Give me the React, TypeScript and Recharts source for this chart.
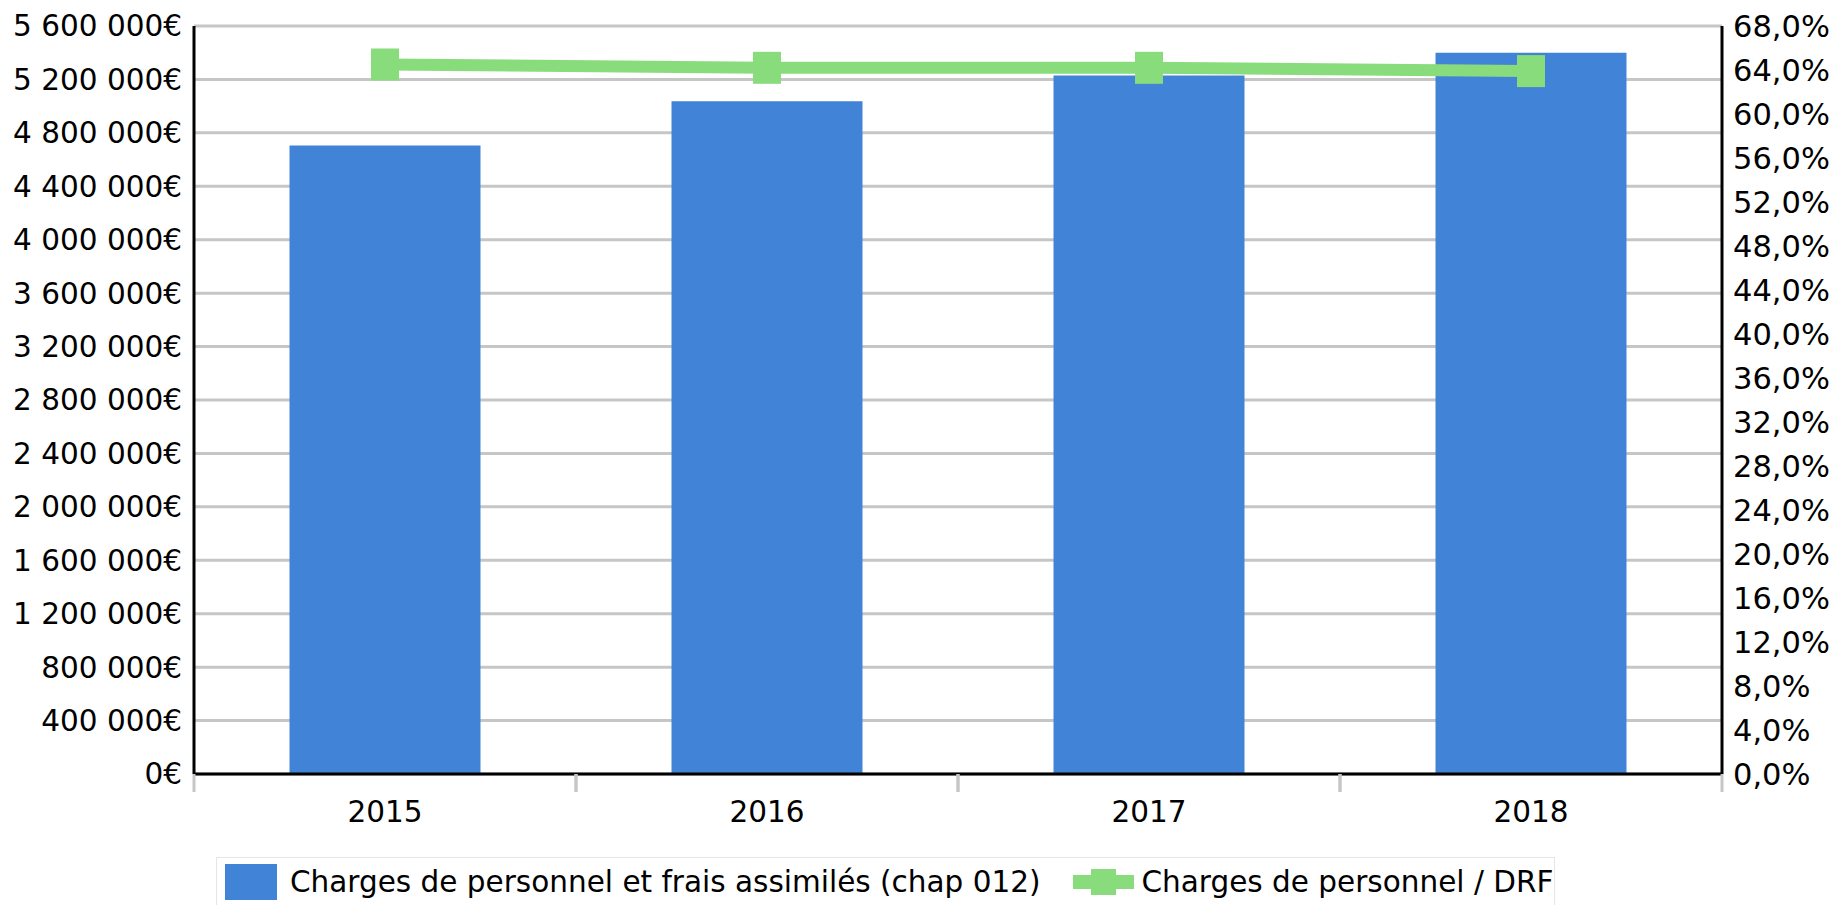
import {
  ComposedChart,
  Bar,
  Line,
  XAxis,
  YAxis,
  CartesianGrid,
  Legend,
} from "recharts";

const years = ["2015", "2016", "2017", "2018"];
const charges = [4706000, 5036000, 5230000, 5400000];
const ratio = [64.5, 64.2, 64.2, 63.9];

const euroTicks = [
  0, 400000, 800000, 1200000, 1600000, 2000000, 2400000, 2800000, 3200000,
  3600000, 4000000, 4400000, 4800000, 5200000, 5600000,
];
const pctTicks = [
  0, 4, 8, 12, 16, 20, 24, 28, 32, 36, 40, 44, 48, 52, 56, 60, 64, 68,
];
const seriesNames = [
  "Charges de personnel et frais assimilés (chap 012)",
  "Charges de personnel / DRF",
];

const data = years.map((year, i) => ({
  year,
  charges: charges[i],
  ratio: ratio[i],
}));

const W = 1847;
const H = 905;
const LEFT_W = 194;
const RIGHT_W = 125;
const BAND = (W - LEFT_W - RIGHT_W) / years.length;

const BLUE = "#4183d7";
const GREEN = "#89dc7c";
const GRID = "#c6c6c6";
const FONT = "'DejaVu Sans', sans-serif";
const FS = 29.5;

const fmtEuro = (v: number) =>
  String(v).replace(/\B(?=(\d{3})+(?!\d))/g, " ") + "€";
const fmtPct = (v: number) => v.toFixed(1).replace(".", ",") + "%";

function XTick(props: any) {
  const { x, y, payload } = props;
  return (
    <g>
      <line x1={x - BAND / 2} x2={x - BAND / 2} y1={y} y2={y + 18} stroke={GRID} strokeWidth={3} />
      <line x1={x + BAND / 2} x2={x + BAND / 2} y1={y} y2={y + 18} stroke={GRID} strokeWidth={3} />
      <text
        x={x}
        y={y + 38}
        textAnchor="middle"
        dominantBaseline="central"
        fill="#000"
        fontSize={FS}
        fontFamily={FONT}
      >
        {payload.value}
      </text>
    </g>
  );
}

function SquareDot(props: any) {
  const { cx, cy, index } = props;
  if (cx == null || cy == null) return <g key={index} />;
  return <rect key={index} x={cx - 14} y={cy - 16} width={28} height={32} fill={GREEN} />;
}

function LegendBox() {
  return (
    <div
      style={{
        boxSizing: "border-box",
        height: 48,
        border: "1px solid #e6e6e6",
        borderBottom: "none",
        display: "flex",
        alignItems: "center",
        padding: "1px 0 0 8px",
        fontFamily: FONT,
        fontSize: FS,
        color: "#000",
        whiteSpace: "nowrap",
      }}
    >
      <span style={{ width: 52, height: 36, background: BLUE, display: "inline-block" }} />
      <span style={{ marginLeft: 13 }}>{seriesNames[0]}</span>
      <svg width={61} height={26} style={{ marginLeft: 33 }}>
        <rect x={0} y={6} width={61} height={14} fill={GREEN} />
        <rect x={18} y={0} width={25} height={26} fill={GREEN} />
      </svg>
      <span style={{ marginLeft: 7 }}>{seriesNames[1]}</span>
    </div>
  );
}

export default function App() {
  return (
    <div style={{ width: W, height: H, background: "#fff" }}>
      <style>{`body{margin:0}`}</style>
      <ComposedChart
        width={W}
        height={H}
        data={data}
        margin={{ top: 26, right: 0, bottom: 0, left: 0 }}
        barCategoryGap="25%"
      >
        <CartesianGrid
          yAxisId="left"
          vertical={false}
          stroke={GRID}
          strokeWidth={3}
        />
        <XAxis
          dataKey="year"
          height={83}
          tickLine={false}
          tickSize={0}
          tickMargin={0}
          axisLine={{ stroke: "#000", strokeWidth: 3 }}
          tick={<XTick />}
          interval={0}
        />
        <YAxis
          yAxisId="left"
          orientation="left"
          width={LEFT_W}
          domain={[0, 5600000]}
          ticks={euroTicks}
          tickFormatter={fmtEuro}
          tickLine={false}
          tickSize={0}
          tickMargin={12}
          interval={0}
          axisLine={{ stroke: "#000", strokeWidth: 3 }}
          tick={{ fill: "#000", fontSize: FS, fontFamily: FONT }}
        />
        <YAxis
          yAxisId="right"
          orientation="right"
          width={RIGHT_W}
          domain={[0, 68]}
          ticks={pctTicks}
          tickFormatter={fmtPct}
          tickLine={false}
          tickSize={0}
          tickMargin={11}
          interval={0}
          axisLine={{ stroke: "#000", strokeWidth: 3 }}
          tick={{ fill: "#000", fontSize: 30.5, fontFamily: FONT }}
        />
        <Bar
          yAxisId="left"
          dataKey="charges"
          name={seriesNames[0]}
          fill={BLUE}
          isAnimationActive={false}
        />
        <Line
          yAxisId="right"
          dataKey="ratio"
          name={seriesNames[1]}
          type="linear"
          stroke={GREEN}
          strokeWidth={12}
          dot={(p: any) => <SquareDot key={p.index} {...p} />}
          activeDot={false}
          isAnimationActive={false}
        />
        <Legend
          verticalAlign="bottom"
          wrapperStyle={{ left: 216, width: 1339, bottom: 0 }}
          content={() => <LegendBox />}
        />
      </ComposedChart>
    </div>
  );
}
